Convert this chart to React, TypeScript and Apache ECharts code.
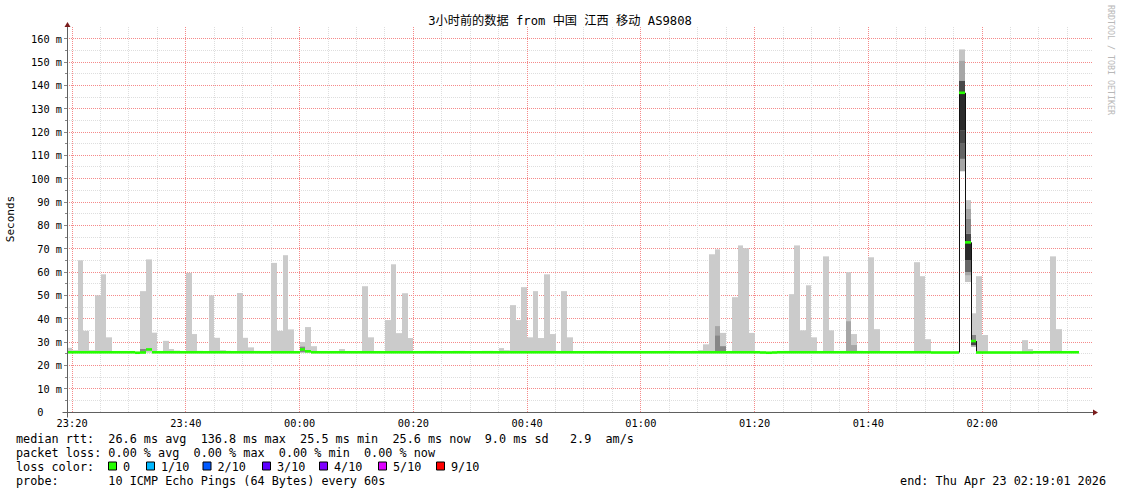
import React, { useEffect, useRef } from "react";
import * as echarts from "echarts";

// x values are minutes after 23:20
const AXIS_START = -0.9;
const AXIS_END = 179.5;
const Y_MAX = 165;

const timeLabelMinutes = [0, 20, 40, 60, 80, 100, 120, 140, 160];
const timeLabels = ["23:20", "23:40", "00:00", "00:20", "00:40", "01:00", "01:20", "01:40", "02:00"];
const yTickValues = [0, 10, 20, 30, 40, 50, 60, 70, 80, 90, 100, 110, 120, 130, 140, 150, 160];
const yTickLabels = ["0", "10 m", "20 m", "30 m", "40 m", "50 m", "60 m", "70 m", "80 m", "90 m", "100 m", "110 m", "120 m", "130 m", "140 m", "150 m", "160 m"];

// median rtt (ms), one value per minute, first entry = minute -1 (23:19)
const FIRST_MINUTE = -1;
const medianRtt: number[] = [
  25.6, 25.6, 25.6, 25.6, 25.6, 25.6, 25.6, 25.6, 25.6, 25.6,
  25.6, 25.6, 25.4, 25.5, 26.8, 25.6, 25.6, 25.6, 25.6, 25.6,
  25.6, 25.6, 25.6, 25.6, 25.6, 25.6, 25.6, 25.6, 25.6, 25.6,
  25.6, 25.6, 25.6, 25.6, 25.6, 25.6, 25.6, 25.6, 25.6, 25.6,
  25.6, 26.8, 26.0, 25.6, 25.6, 25.6, 25.6, 25.6, 25.6, 25.6,
  25.6, 25.6, 25.6, 25.6, 25.6, 25.6, 25.6, 25.6, 25.6, 25.6,
  25.6, 25.6, 25.6, 25.6, 25.6, 25.6, 25.6, 25.6, 25.6, 25.6,
  25.6, 25.6, 25.6, 25.6, 25.6, 25.6, 25.6, 25.6, 25.6, 25.6,
  25.6, 25.6, 25.6, 25.6, 25.6, 25.6, 25.6, 25.6, 25.6, 25.6,
  25.6, 25.6, 25.6, 25.6, 25.6, 25.6, 25.6, 25.6, 25.6, 25.6,
  25.6, 25.6, 25.6, 25.6, 25.6, 25.6, 25.6, 25.6, 25.6, 25.6,
  25.6, 25.6, 25.6, 25.6, 25.6, 25.6, 25.6, 25.6, 25.6, 25.6,
  25.6, 25.6, 25.5, 25.4, 25.5, 25.6, 25.6, 25.6, 25.6, 25.6,
  25.6, 25.6, 25.6, 25.6, 25.6, 25.6, 25.6, 25.6, 25.6, 25.6,
  25.6, 25.6, 25.6, 25.6, 25.6, 25.6, 25.6, 25.6, 25.6, 25.6,
  25.6, 25.6, 25.5, 25.5, 25.5, 25.5, 25.5, 136.8, 72.7, 30.4,
  25.5, 25.5, 25.5, 25.5, 25.5, 25.5, 25.5, 25.5, 25.5, 25.5,
  25.6, 25.6, 25.6, 25.6, 25.6, 25.6, 25.6, 25.6,
];

// smoke (ping spread) per minute: [minute, min ms, max ms]
const smokeBars: [number, number, number][] = [
  [-1, 25.4, 27.5], [0, 25.4, 26.5], [1, 25.4, 65], [2, 25.4, 34.8], [3, 25.4, 26.5], [4, 25.4, 50], [5, 25.4, 59], [6, 25.4, 32],
  [12, 25.4, 51.8], [13, 25.4, 65.4], [14, 25.4, 34], [16, 25.4, 30.5], [17, 25.4, 27], [18, 25.4, 26.3],
  [20, 25.4, 59.6], [21, 25.4, 33.4], [22, 25.4, 26.2], [24, 25.4, 50], [25, 25.4, 31.8], [26, 25.4, 26.5], [27, 25.4, 26.2],
  [29, 25.4, 51], [30, 25.4, 31.8], [31, 25.4, 27.7], [32, 25.4, 26.2], [35, 25.4, 63.9], [36, 25.4, 34.8], [37, 25.4, 67.2], [38, 25.4, 35.4],
  [40, 25.4, 30], [41, 25.4, 36.4], [42, 25.4, 28.2], [47, 25.4, 27], [51, 25.4, 53.9], [52, 25.4, 32],
  [55, 25.4, 39.4], [56, 25.4, 63.3], [57, 25.4, 33.8], [58, 25.4, 50.9], [59, 25.4, 31.7],
  [62, 25.4, 26.2], [63, 25.4, 26.2], [67, 25.4, 26.2], [68, 25.4, 26.2], [72, 25.4, 26.2], [73, 25.4, 26.2],
  [75, 25.4, 27.4], [76, 25.4, 26.5], [77, 25.4, 45.8], [78, 25.4, 39.4], [79, 25.4, 53.5], [80, 25.4, 32],
  [81, 25.4, 51.8], [82, 25.4, 31.7], [83, 25.4, 59], [84, 25.4, 33.4], [86, 25.4, 51.8], [87, 25.4, 32],
  [92, 25.4, 26.2], [93, 25.4, 26.2], [104, 25.4, 26.2], [105, 25.4, 26.2],
  [109, 25.4, 26.2], [110, 25.4, 26.5], [111, 25.4, 29], [112, 25.4, 67.6], [113, 25.4, 69.7], [114, 25.4, 33.9],
  [116, 25.4, 49.2], [117, 25.4, 71.4], [118, 25.4, 70.2], [119, 25.4, 33.9],
  [125, 25.4, 26.2], [126, 25.4, 50.5], [127, 25.4, 71.4], [128, 25.4, 35], [129, 25.4, 54.3], [130, 25.4, 32],
  [132, 25.4, 66.7], [133, 25.4, 35], [135, 25.4, 26.2], [136, 25.4, 59.9], [137, 25.4, 33.4], [138, 25.4, 26.2],
  [140, 25.4, 66.3], [141, 25.4, 35.5], [148, 25.4, 64.2], [149, 25.4, 58.2], [150, 25.4, 31.2],
  [156, 103.2, 155.3], [157, 55.7, 90.7], [158, 28, 42.3], [159, 25.4, 58.2], [160, 25.4, 33],
  [167, 25.4, 30.8], [168, 25.4, 27], [172, 25.4, 66.7], [173, 25.4, 35.5],
];

// denser smoke layers: [minute, from ms, to ms, shade level]
const smokeLayers: [number, number, number, number][] = [
  [12, 25.6, 27, 2], [40, 25.6, 28, 2],
  [113, 25.6, 32.9, 2], [113, 32.9, 36.8, 1], [114, 25.6, 28.2, 2],
  [136, 25.6, 38.9, 1], [137, 25.6, 28.7, 1],
  [156, 103.2, 108.5, 1], [156, 108.5, 115, 3], [156, 115, 120.6, 4], [156, 120.6, 137, 5],
  [156, 137, 142, 4], [156, 142, 150.6, 1], [156, 150.6, 155.3, 0],
  [157, 55.7, 58.6, 0], [157, 58.6, 60, 1], [157, 60, 65, 3], [157, 65, 72.7, 5],
  [157, 72.7, 76.4, 4], [157, 76.4, 82.9, 2], [157, 82.9, 87.1, 1], [157, 87.1, 90.7, 0],
  [158, 28, 28.7, 1], [158, 28.7, 30.4, 4], [158, 30.4, 33, 2],
];

const SMOKE_LIGHT = "#cbcbcb";
const SHADES = ["#c4c4c4", "#a6a6a6", "#878787", "#666666", "#484848", "#2a2a2a"];
const MEDIAN_COLOR = "#26ff00";
const GRID_MAJOR = "#f58a8a";
const GRID_MINOR = "#dedede";

const lossLabels = ["0", "1/10", "2/10", "3/10", "4/10", "5/10", "9/10"];
const lossColors = ["#26ff00", "#00b8ff", "#0059ff", "#5e00ff", "#7e00ff", "#dd00ff", "#ff0000"];
const lossBoxX = [108, 146, 202.5, 262, 319, 378, 436];

const MONO = '"DejaVu Sans Mono", monospace';
const AXIS_FONT = `10.3px ${MONO}`;
const LEGEND_FONT = `11.8px ${MONO}`;

const legendLines = [
  "median rtt:  26.6 ms avg  136.8 ms max  25.5 ms min  25.6 ms now  9.0 ms sd   2.9  am/s",
  "packet loss: 0.00 % avg  0.00 % max  0.00 % min  0.00 % now",
  "loss color:",
  "probe:       10 ICMP Echo Pings (64 Bytes) every 60s",
];
const legendY = [438.5, 452.5, 466.5, 480.5];

function crisp(v: number) {
  return Math.round(v - 0.5) + 0.5;
}

export default function App() {
  const ref = useRef<HTMLDivElement>(null);

  useEffect(() => {
    if (!ref.current) return;
    const chart = echarts.init(ref.current, null, { renderer: "svg" });

    const gridSeries = {
      type: "custom",
      coordinateSystem: "cartesian2d",
      clip: false,
      silent: true,
      z: 1,
      data: [[0, 0]],
      renderItem: (_p: any, api: any) => {
        const children: any[] = [];
        const [xL, yB] = api.coord([AXIS_START, 0]);
        const [xR, yT] = api.coord([AXIS_END, Y_MAX]);
        for (let v = 5; v <= 160; v += 5) {
          const y = crisp(api.coord([0, v])[1]);
          children.push({
            type: "line",
            shape: { x1: xL, y1: y, x2: xR, y2: y },
            style: { stroke: v % 10 === 0 ? GRID_MAJOR : GRID_MINOR, lineWidth: 1, lineDash: [1, 1] },
          });
          children.push({
            type: "line",
            shape: { x1: xL - (v % 10 === 0 ? 3 : 2), y1: y, x2: xL, y2: y },
            style: { stroke: "#888", lineWidth: 1 },
          });
        }
        for (let m = 0; m <= 175; m += 5) {
          const x = crisp(api.coord([m, 0])[0]);
          children.push({
            type: "line",
            shape: { x1: x, y1: yB, x2: x, y2: yT },
            style: { stroke: m % 20 === 0 ? GRID_MAJOR : GRID_MINOR, lineWidth: 1, lineDash: [1, 1] },
          });
        }
        return { type: "group", children };
      },
    };

    const axisSeries = {
      type: "custom",
      coordinateSystem: "cartesian2d",
      clip: false,
      silent: true,
      z: 5,
      data: [[0, 0]],
      renderItem: (_p: any, api: any) => {
        const children: any[] = [];
        const [xL0, yB0] = api.coord([AXIS_START, 0]);
        const [xR0, yT0] = api.coord([AXIS_END, Y_MAX]);
        const xL = crisp(xL0);
        const yB = crisp(yB0);
        children.push({ type: "line", shape: { x1: xL - 5, y1: yB, x2: xR0 + 1, y2: yB }, style: { stroke: "#606060", lineWidth: 1 } });
        children.push({ type: "line", shape: { x1: xL, y1: yB + 5, x2: xL, y2: yT0 }, style: { stroke: "#606060", lineWidth: 1 } });
        children.push({
          type: "polygon",
          shape: { points: [[xR0, yB - 3], [xR0 + 5, yB], [xR0, yB + 3]] },
          style: { fill: "#7a1c1c" },
        });
        children.push({
          type: "polygon",
          shape: { points: [[xL - 3, yT0], [xL, yT0 - 5], [xL + 3, yT0]] },
          style: { fill: "#7a1c1c" },
        });
        timeLabelMinutes.forEach((m, i) => {
          const x = api.coord([m, 0])[0];
          children.push({
            type: "text",
            x,
            y: yB + 10,
            style: { text: timeLabels[i], font: AXIS_FONT, fill: "#000", textAlign: "center", textVerticalAlign: "middle" },
          });
        });
        return { type: "group", children };
      },
    };

    const smokeData = [
      ...smokeBars.map(([m, lo, hi]) => [m, lo, hi, -1]),
      ...smokeLayers.map(([m, lo, hi, s]) => [m, lo, hi, s]),
    ];

    const smokeSeries = {
      type: "custom",
      coordinateSystem: "cartesian2d",
      clip: true,
      silent: true,
      z: 2,
      encode: { x: 0, y: [1, 2] },
      data: smokeData,
      renderItem: (_p: any, api: any) => {
        const m = api.value(0);
        const lo = api.value(1);
        const hi = api.value(2);
        const s = api.value(3);
        const p0 = api.coord([m, lo]);
        const p1 = api.coord([m + 1, hi]);
        const x0 = Math.round(p0[0]);
        const x1 = Math.round(p1[0]);
        return {
          type: "rect",
          shape: { x: x0, y: p1[1], width: x1 - x0, height: p0[1] - p1[1] },
          style: { fill: s < 0 ? SMOKE_LIGHT : SHADES[s] },
        };
      },
    };

    const medianData = medianRtt.map((v, i) => [FIRST_MINUTE + i, v]);
    const medianSeries = {
      type: "custom",
      coordinateSystem: "cartesian2d",
      clip: true,
      silent: true,
      z: 3,
      data: medianData,
      renderItem: (p: any, api: any) => {
        const i = p.dataIndex;
        const m = api.value(0);
        const v = api.value(1);
        const a = api.coord([m, v]);
        const b = api.coord([m + 1, v]);
        const x0 = Math.round(a[0]);
        const x1 = Math.round(b[0]);
        const children: any[] = [];
        if (i > 0) {
          const prev = medianRtt[i - 1];
          if (Math.abs(prev - v) > 1.5) {
            const yp = api.coord([m, prev])[1];
            children.push({
              type: "line",
              shape: { x1: x0 + 0.5, y1: yp, x2: x0 + 0.5, y2: a[1] },
              style: { stroke: "#111", lineWidth: 1 },
            });
          }
        }
        children.push({
          type: "rect",
          shape: { x: x0, y: a[1] - 1.3, width: x1 - x0, height: 2.6 },
          style: { fill: MEDIAN_COLOR },
        });
        return { type: "group", children };
      },
    };

    const graphic: any[] = [
      {
        type: "text",
        x: 560,
        y: 21,
        style: {
          text: "3小时前的数据 from 中国 江西 移动 AS9808",
          font: `12.2px "DejaVu Sans Mono", "Noto Sans CJK SC", monospace`,
          fill: "#000",
          textAlign: "center",
          textVerticalAlign: "middle",
        },
      },
      {
        type: "text",
        x: 10,
        y: 219,
        rotation: Math.PI / 2,
        style: { text: "Seconds", font: `11px ${MONO}`, fill: "#000", textAlign: "center", textVerticalAlign: "middle" },
      },
      {
        type: "text",
        x: 1111,
        y: 5,
        rotation: -Math.PI / 2,
        style: { text: "RRDTOOL / TOBI OETIKER", font: `8.3px ${MONO}`, fill: "#b8b8b8", textAlign: "left", textVerticalAlign: "middle" },
      },
      ...legendLines.map((t, i) => ({
        type: "text",
        x: 16,
        y: legendY[i],
        style: { text: t, font: LEGEND_FONT, fill: "#000", textAlign: "left", textVerticalAlign: "middle" },
      })),
      {
        type: "text",
        x: 1106,
        y: legendY[3],
        style: { text: "end: Thu Apr 23 02:19:01 2026", font: LEGEND_FONT, fill: "#000", textAlign: "right", textVerticalAlign: "middle" },
      },
    ];
    lossLabels.forEach((lab, i) => {
      graphic.push({
        type: "rect",
        shape: { x: lossBoxX[i] + 0.5, y: legendY[2] - 4.5, width: 8, height: 8 },
        style: { fill: lossColors[i], stroke: "#000", lineWidth: 1 },
      });
      graphic.push({
        type: "text",
        x: lossBoxX[i] + 15,
        y: legendY[2],
        style: { text: lab, font: LEGEND_FONT, fill: "#000", textAlign: "left", textVerticalAlign: "middle" },
      });
    });

    chart.setOption({
      animation: false,
      backgroundColor: "#ffffff",
      grid: { left: 67, top: 27, width: 1026, height: 385, containLabel: false },
      xAxis: { type: "value", min: AXIS_START, max: AXIS_END, show: false },
      yAxis: {
        type: "value",
        min: 0,
        max: Y_MAX,
        interval: 10,
        axisLine: { show: false },
        axisTick: { show: false },
        splitLine: { show: false },
        axisLabel: {
          margin: 5,
          color: "#000",
          fontFamily: MONO,
          fontSize: 10.3,
          formatter: (v: number) => {
            const idx = yTickValues.indexOf(v);
            if (idx < 0) return "";
            return v === 0 ? "{z|0}" : yTickLabels[idx];
          },
          rich: { z: { padding: [0, 18.6, 0, 0], fontFamily: MONO, fontSize: 10.3, color: "#000" } },
        },
      },
      graphic,
      series: [gridSeries, smokeSeries, medianSeries, axisSeries],
    } as any);

    return () => chart.dispose();
  }, []);

  return (
    <div
      ref={ref}
      style={{ position: "fixed", left: 0, top: 0, width: 1121, height: 494, background: "#fff" }}
    />
  );
}
